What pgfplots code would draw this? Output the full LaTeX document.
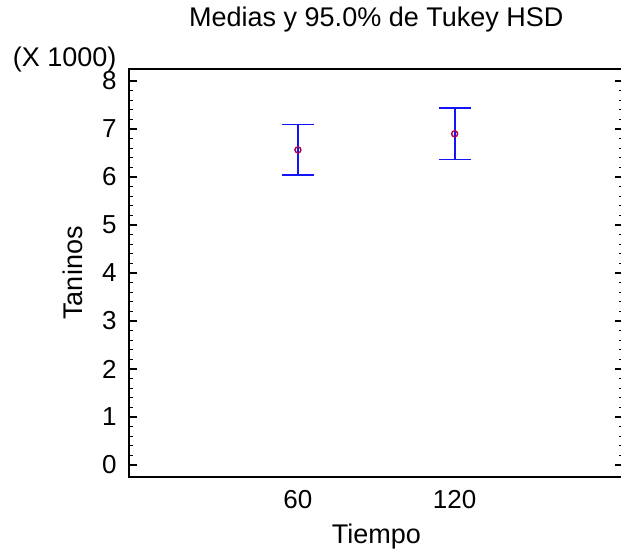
\documentclass[border=0pt]{standalone}
\usepackage{pgfplots}
\pgfplotsset{compat=1.18}
\usepackage{fontspec}
\setmainfont{Liberation Sans}
\usetikzlibrary{calc}
\definecolor{barblue}{RGB}{20,20,250}
\definecolor{markred}{RGB}{170,0,70}
\begin{document}
\begin{tikzpicture}[font=\fontsize{13.5pt}{16pt}\selectfont]
\begin{axis}[
  name=ax,
  scale only axis,
  width=247.6pt, height=204pt,
  xmin=-0.08, xmax=3.08,
  ymin=-0.25, ymax=8.25,
  xtick={1,2}, xticklabels={60,120},
  xtick style={draw=none},
  ytick={0,1,2,3,4,5,6,7,8},
  minor y tick num=4,
  tick align=inside,
  ytick pos=both,
  major tick length=4.3pt,
  minor tick length=2.3pt,
  y tick style={black, line width=0.6pt},
  axis line style={black, line width=1pt},
  /pgf/number format/assume math mode=true,
  tick label style={font=\fontsize{13pt}{15pt}\selectfont},
  xticklabel style={anchor=base, inner sep=0pt, yshift=-15.6pt},
  yticklabel style={anchor=east, inner sep=0pt, xshift=-5.9pt},
  title={Medias y 95.0\% de Tukey HSD},
  title style={at={(0.5,1)}, anchor=base, inner sep=0pt, yshift=15.5pt},
  xlabel={Tiempo},
  xlabel style={at={($(rel axis cs:0.5,0)+(0,-33pt)$)}, anchor=base, inner sep=0pt},
  ylabel={Taninos},
  ylabel style={at={($(rel axis cs:0,0.5)+(-23pt,0)$)}, anchor=base, inner sep=0pt},
  clip=false,
]
\addplot[draw=none, mark=none,
  error bars/.cd, y dir=both, y explicit,
  error bar style={barblue, line width=0.85pt},
  error mark=-,
  error mark options={rotate=90, barblue, line width=0.85pt, mark size=8pt}]
  coordinates {
    (1,6.565) +- (0,0.53)
    (2,6.900) +- (0,0.538)
  };
\addplot[only marks, mark=o, mark size=1.5pt, mark options={draw=markred, line width=0.7pt}]
  coordinates {(1,6.565) (2,6.900)};
\node[anchor=base east, inner sep=0pt] at ($(rel axis cs:0,1)+(-5.9pt,1.2pt)$) {(X 1000)};
\end{axis}
\pgfresetboundingbox
\path ($(ax.south west)+(-64.35pt,-40.5pt)$) rectangle ($(ax.south west)+(246.15pt,238.5pt)$);
\end{tikzpicture}
\end{document}
